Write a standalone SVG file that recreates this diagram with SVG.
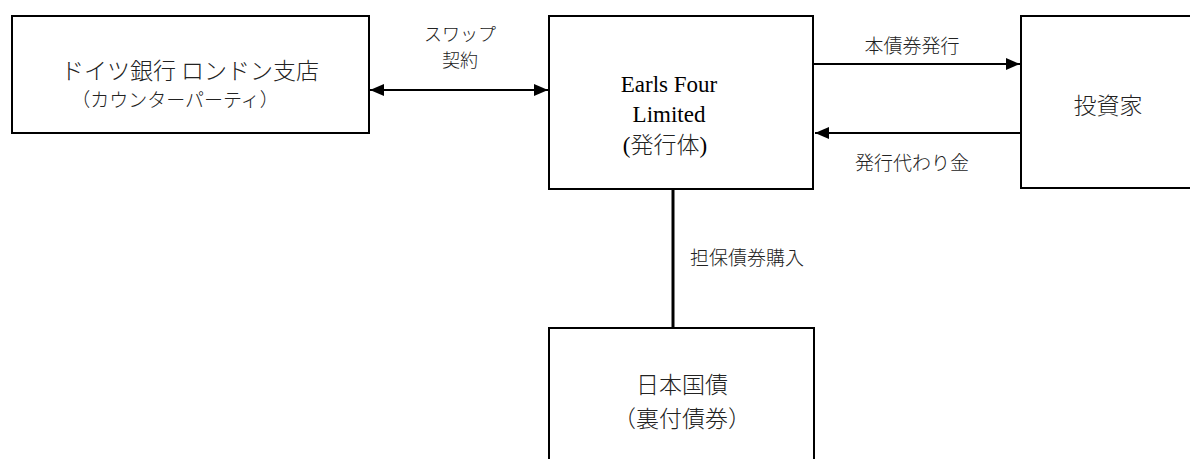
<svg xmlns="http://www.w3.org/2000/svg" width="1190" height="459" viewBox="0 0 1190 459">
<style>
.box{fill:#fff;stroke:#000;stroke-width:2}
.jp{font-family:"Noto Sans CJK JP","Noto Sans",sans-serif;fill:#222;font-weight:300}
.en{font-family:"Liberation Serif","Noto Sans CJK JP",serif;fill:#000}
.ln{stroke:#000;stroke-width:2;fill:none}
</style>
<defs>
<marker id="ah" viewBox="0 0 14 12" refX="14" refY="6" markerWidth="14" markerHeight="12" markerUnits="userSpaceOnUse" orient="auto-start-reverse">
<path d="M0,0 L14,6 L0,12 Z" fill="#000"/>
</marker>
</defs>
<rect width="1190" height="459" fill="#fff"/>
<g id="connectors">
<line class="ln" x1="370" y1="90" x2="548" y2="90" marker-start="url(#ah)" marker-end="url(#ah)"/>
<line class="ln" x1="814" y1="64" x2="1020" y2="64" marker-end="url(#ah)"/>
<line class="ln" x1="1021" y1="133" x2="815" y2="133" marker-end="url(#ah)"/>
<line x1="673" y1="189" x2="673" y2="328" stroke="#000" stroke-width="3"/>
<text class="jp" x="460" y="41" font-size="18" text-anchor="middle">スワップ</text>
<text class="jp" x="460" y="67" font-size="18" text-anchor="middle">契約</text>
<text class="jp" x="912" y="53" font-size="19" text-anchor="middle">本債券発行</text>
<text class="jp" x="912" y="170" font-size="19" text-anchor="middle">発行代わり金</text>
<text class="jp" x="690" y="265" font-size="19">担保債券購入</text>
</g>
<g id="deutsche">
<rect class="box" x="12" y="16" width="357" height="117" stroke-width="1.5"/>
<text class="jp" x="190" y="79" font-size="23" text-anchor="middle">ドイツ銀行 ロンドン支店</text>
<text class="jp" x="175" y="107" font-size="19" text-anchor="middle">（カウンターパーティ）</text>
</g>
<g id="earls">
<rect class="box" x="549" y="16" width="264" height="173"/>
<text class="en" x="669" y="92" font-size="23" text-anchor="middle">Earls Four</text>
<text class="en" x="669" y="122" font-size="23" text-anchor="middle">Limited</text>
<text class="en" x="665" y="153" font-size="23" text-anchor="middle">(<tspan class="jp">発行体</tspan>)</text>
</g>
<g id="investor">
<rect class="box" x="1021" y="16" width="180" height="172"/>
<text class="jp" x="1108" y="114" font-size="23" text-anchor="middle">投資家</text>
</g>
<g id="jgb">
<rect class="box" x="549" y="328" width="265" height="140"/>
<text class="jp" x="682" y="393" font-size="23" text-anchor="middle">日本国債</text>
<text class="jp" x="682" y="427" font-size="23" text-anchor="middle">（裏付債券）</text>
</g>
</svg>
